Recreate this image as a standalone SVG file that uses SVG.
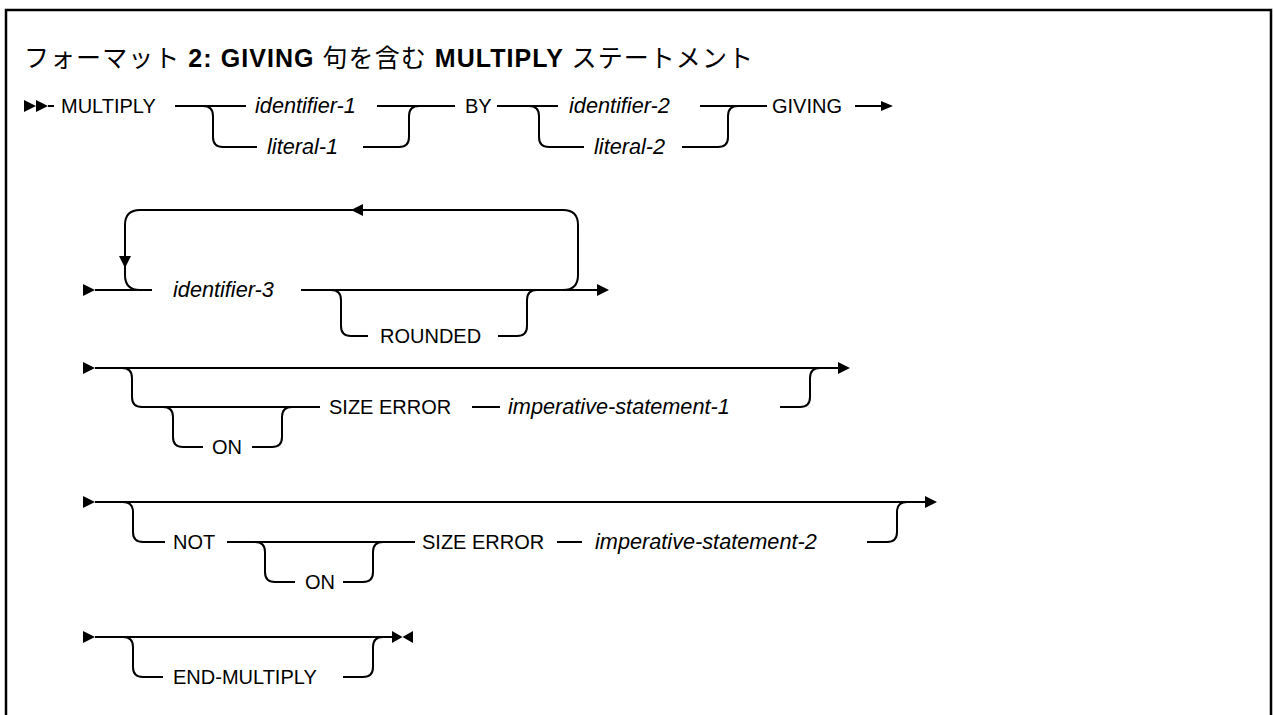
<svg xmlns="http://www.w3.org/2000/svg" width="1274" height="715" viewBox="0 0 1274 715">
<style>
.ln{fill:none;stroke:#000;stroke-width:2}
.ah{fill:#000;stroke:none}
.t{font-family:"Liberation Sans","Noto Sans",sans-serif;font-size:20px;fill:#000}
.i{font-style:italic;font-size:21.7px}
.title{font-family:"Liberation Sans","Noto Sans CJK JP",sans-serif;font-size:25px;fill:#000}
.jp{font-family:"Noto Sans CJK JP","Liberation Sans",sans-serif;font-weight:normal}
.b{font-weight:bold}
</style>
<rect width="1274" height="715" fill="#fff"/>
<path d="M6 716 V10 H1271 V716" fill="none" stroke="#000" stroke-width="2.5"/>
<text id="title" class="title" x="24" y="67" textLength="729" lengthAdjust="spacing"><tspan class="jp">フォーマット</tspan><tspan class="b"> 2: GIVING </tspan><tspan class="jp">句を含む</tspan><tspan class="b"> MULTIPLY </tspan><tspan class="jp">ステートメント</tspan></text>

<g id="connectors">
<!-- row 1 -->
<polygon class="ah" points="24,100 36,106 24,112"/>
<polygon class="ah" points="36,100 48,106 36,112"/>
<path class="ln" d="M48 106 H54"/>
<path class="ln" d="M175 106 H246"/>
<path class="ln" d="M203 106 Q213 106 213 116 V137 Q213 147 223 147 H257"/>
<path class="ln" d="M363 147 H399 Q409 147 409 137 V116 Q409 106 419 106"/>
<path class="ln" d="M377 106 H455"/>
<path class="ln" d="M497 106 H558"/>
<path class="ln" d="M529 106 Q539 106 539 116 V137 Q539 147 549 147 H584"/>
<path class="ln" d="M682 147 H718 Q728 147 728 137 V116 Q728 106 738 106"/>
<path class="ln" d="M700 106 H767"/>
<path class="ln" d="M855 106 H883"/>
<polygon class="ah" points="881,101 893,106 881,111"/>
<!-- row 2 -->
<polygon class="ah" points="83,284 95,290 83,296"/>
<path class="ln" d="M95 290 H152"/>
<path class="ln" d="M563 290 Q578 290 578 275 V225 Q578 210 563 210 H140 Q125 210 125 225 V275 Q125 290 140 290"/>
<polygon class="ah" points="351,210 363,204 363,216"/>
<polygon class="ah" points="119,256 131,256 125,268"/>
<path class="ln" d="M301 290 H598"/>
<path class="ln" d="M331 290 Q341 290 341 300 V326 Q341 336 351 336 H368"/>
<path class="ln" d="M498 336 H517 Q527 336 527 326 V300 Q527 290 537 290"/>
<polygon class="ah" points="597,284 609,290 597,296"/>
<!-- row 3 -->
<polygon class="ah" points="83,362 95,368 83,374"/>
<path class="ln" d="M95 368 H840"/>
<polygon class="ah" points="838,362 850,368 838,374"/>
<path class="ln" d="M122 368 Q132 368 132 378 V397 Q132 407 142 407 H320"/>
<path class="ln" d="M163 407 Q173 407 173 417 V437 Q173 447 183 447 H203"/>
<path class="ln" d="M252 447 H272 Q282 447 282 437 V417 Q282 407 292 407"/>
<path class="ln" d="M472 407 H500"/>
<path class="ln" d="M780 407 H800 Q810 407 810 397 V378 Q810 368 820 368"/>
<!-- row 4 -->
<polygon class="ah" points="83,496 95,502 83,508"/>
<path class="ln" d="M95 502 H927"/>
<polygon class="ah" points="925,496 937,502 925,508"/>
<path class="ln" d="M123 502 Q133 502 133 512 V532 Q133 542 143 542 H165"/>
<path class="ln" d="M227 542 H415"/>
<path class="ln" d="M255 542 Q265 542 265 552 V572 Q265 582 275 582 H295"/>
<path class="ln" d="M343 582 H363 Q373 582 373 572 V552 Q373 542 383 542"/>
<path class="ln" d="M557 542 H582"/>
<path class="ln" d="M867 542 H887 Q897 542 897 532 V512 Q897 502 907 502"/>
<!-- row 5 -->
<polygon class="ah" points="83,631 95,637 83,643"/>
<path class="ln" d="M95 637 H393"/>
<polygon class="ah" points="392,631 402.5,637 392,643"/>
<polygon class="ah" points="413,631 402.5,637 413,643"/>
<path class="ln" d="M123 637 Q133 637 133 647 V667 Q133 677 143 677 H163"/>
<path class="ln" d="M343 677 H363 Q373 677 373 667 V647 Q373 637 383 637"/>
</g>

<g id="n-multiply"><text class="t" x="61" y="113">MULTIPLY</text></g>
<g id="n-identifier-1"><text class="t i" x="255" y="113">identifier-1</text></g>
<g id="n-literal-1"><text class="t i" x="267" y="154">literal-1</text></g>
<g id="n-by"><text class="t" x="465" y="113">BY</text></g>
<g id="n-identifier-2"><text class="t i" x="569" y="113">identifier-2</text></g>
<g id="n-literal-2"><text class="t i" x="594" y="154">literal-2</text></g>
<g id="n-giving"><text class="t" x="772" y="113">GIVING</text></g>

<g id="n-identifier-3"><text class="t i" x="173" y="297">identifier-3</text></g>
<g id="n-rounded"><text class="t" x="380" y="343">ROUNDED</text></g>

<g id="n-on-1"><text class="t" x="212" y="454">ON</text></g>
<g id="n-size-error-1"><text class="t" x="329" y="414">SIZE ERROR</text></g>
<g id="n-imperative-1"><text class="t i" x="508" y="414">imperative-statement-1</text></g>

<g id="n-not"><text class="t" x="173" y="549">NOT</text></g>
<g id="n-on-2"><text class="t" x="305" y="589">ON</text></g>
<g id="n-size-error-2"><text class="t" x="422" y="549">SIZE ERROR</text></g>
<g id="n-imperative-2"><text class="t i" x="595" y="549">imperative-statement-2</text></g>

<g id="n-end-multiply"><text class="t" x="173" y="684">END-MULTIPLY</text></g>
</svg>
